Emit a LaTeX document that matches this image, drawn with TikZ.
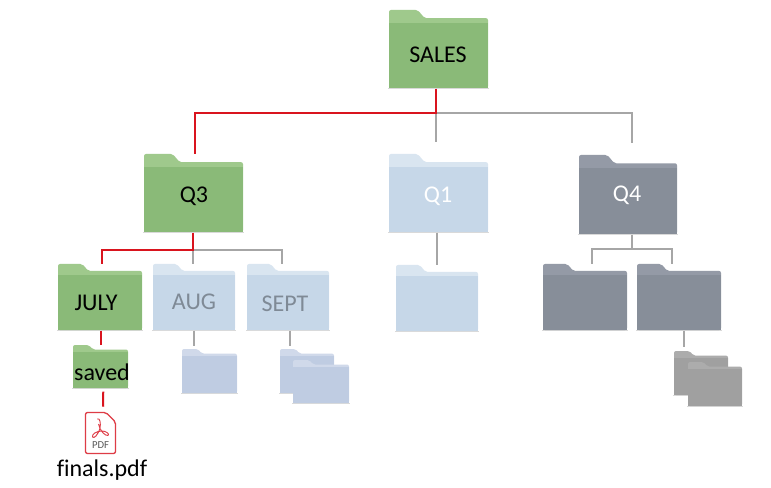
\documentclass[tikz,border=0pt]{standalone}
\usepackage{fontspec}
\setmainfont[Ligatures=NoCommon]{Carlito}
\usetikzlibrary{positioning,calc}
\definecolor{salesgreen}{HTML}{8ABA78}
\definecolor{salestab}{HTML}{9FC98C}
\definecolor{paleblue}{HTML}{C6D7E8}
\definecolor{paletab}{HTML}{D9E5F0}
\definecolor{slategrey}{HTML}{878E99}
\definecolor{slatetab}{HTML}{949AA6}
\definecolor{lilac}{HTML}{BFCCE2}
\definecolor{lilactab}{HTML}{D0D9EA}
\definecolor{stone}{HTML}{A0A0A0}
\definecolor{stonetab}{HTML}{ACACAC}
\definecolor{paletext}{HTML}{7F8A96}
\definecolor{redline}{HTML}{D9141E}
\definecolor{greyline}{HTML}{A6A6A6}
\definecolor{pdfred}{HTML}{DE3C46}
\tikzset{
  redlink/.style={draw=redline,line width=1.5pt},
  greylink/.style={draw=greyline,line width=1.4pt},
  foldertext/.style={font=\fontsize{18pt}{20pt}\selectfont,inner sep=0pt},
}
\begin{document}
\begin{tikzpicture}[x=0.75pt,y=-0.75pt]%
%
% Syntax: {name} {front colour} {tab colour} (x0,y0,x1,y1)
\def\drawfolder#1#2#3(#4,#5,#6,#7){%
  \draw[black!15,line width=0.6pt] ({#4-1},{#7+0.5}) -- ({#6+1},{#7+0.5});
  \fill[#3,rounded corners=1.5pt] (#4,#7) -- (#4,#5) -- ({#4+0.29*(#6-#4)},#5)
    -- ({#4+0.36*(#6-#4)},{#5+0.105*(#7-#5)}) -- (#6,{#5+0.105*(#7-#5)}) -- (#6,#7) -- cycle;
  \fill[#2] (#4,{#5+0.17*(#7-#5)}) rectangle (#6,#7);
  \node[inner sep=0pt,minimum width={(#6-#4)*0.75pt},minimum height={(#7-#5)*0.75pt},anchor=north west] (#1) at (#4,#5) {};
}
%
\fill[white] (0,0) rectangle (771,488);
\useasboundingbox (0,0) rectangle (771,488);
%
\drawfolder{sales}{salesgreen}{salestab}(389,10,488,88)
\node[foldertext] (salestext) at (438,55) {SALES};
\drawfolder{qthree}{salesgreen}{salestab}(144,154,243,232)
\node[foldertext] (qthreetext) at (194,196) {Q3};
\drawfolder{qone}{paleblue}{paletab}(389,154,488,232)
\node[foldertext,text=white] (qonetext) at (438,196) {Q1};
\drawfolder{qfour}{slategrey}{slatetab}(579,155,677,234)
\node[foldertext,text=white] (qfourtext) at (627,195) {Q4};
%
\drawfolder{july}{salesgreen}{salestab}(58,264,142,330)
\node[foldertext] (julytext) at (96,303) {JULY};
\drawfolder{aug}{paleblue}{paletab}(153,264,235,330)
\node[foldertext,text=paletext] (augtext) at (194,302) {AUG};
\drawfolder{sept}{paleblue}{paletab}(247,264,329,330)
\node[foldertext,text=paletext] (septtext) at (285,304) {SEPT};
\drawfolder{qonesub}{paleblue}{paletab}(396,265,478,331)
\drawfolder{qfoura}{slategrey}{slatetab}(543,264,627,330)
\drawfolder{qfourb}{slategrey}{slatetab}(637,264,721,330)
%
\drawfolder{saved}{salesgreen}{salestab}(73,345,128,388)
\node[foldertext] (savedtext) at (102,372) {saved};
\drawfolder{augsub}{lilac}{lilactab}(182,349,237,393)
\drawfolder{septback}{lilac}{lilactab}(280,349,334,393)
\drawfolder{septfront}{lilac}{lilactab}(293,360,349,403)
\drawfolder{qfourback}{stone}{stonetab}(674,351,728,395)
\drawfolder{qfourfront}{stone}{stonetab}(688,362,742,406)
%
% pdf icon
\draw[pdfred,line width=1pt,rounded corners=1.5pt,fill=white] (85.5,412.5) -- (106,412.5) -- (115.5,422) -- (115.5,453.5) -- (85.5,453.5) -- cycle;
\draw[pdfred,line width=0.7pt,line join=round] (97,419) .. controls (100,417) and (101,424) .. (100,428) .. controls (98,435) and (94,439) .. (92.5,437) .. controls (91.5,434) and (97,431) .. (102,431) .. controls (106,431) and (110,434) .. (108,435.5) .. controls (105,436) and (100,431) .. (98.5,424);
\node[inner sep=0pt,minimum width=22.5pt,minimum height=31.5pt] (pdf) at (100.5,433) {};
\node[font=\fontsize{8pt}{9pt}\selectfont,text=black!65,inner sep=0pt] (pdftext) at (100.5,445.5) {PDF};
\node[foldertext] (finals) at (102,470) {finals.pdf};
%
% junctions and free ends
\coordinate (salesbus) at (436,113);
\coordinate (qonefree) at (436,142);
\coordinate (qfourfree) at (632,143);
\coordinate (qthreebus) at (193,250);
\coordinate (qfourbus) at (632,249);
%
\draw[greylink] (salesbus) -- (qonefree);
\draw[greylink] (salesbus) -| (qfourfree);
\draw[redlink] (salesbus |- sales.south) -- (salesbus) -| ($(qthree.north)+(1.5,0)$);
%
\draw[greylink] (qthreebus) -- (qthreebus |- aug.north);
\draw[greylink] (qthreebus) -| ($(sept.north)+(-6,0)$);
\draw[redlink] (qthreebus |- qthree.south) -- (qthreebus) -| ($(july.north)+(2,0)$);
\draw[redlink] ($(july.south)+(1,0)$) -- ($(saved.north)+(0.5,0)$);
\draw[redlink] ($(saved.south)+(2.5,3)$) -- ($(pdf.north)+(2.5,-5)$);
%
\draw[greylink] (aug.south) -- ($(augsub.north)+(-15.5,-3)$);
\draw[greylink] ($(sept.south)+(2,0)$) -- ($(septback.north)+(-17,-3)$);
\draw[greylink] ($(qone.south)+(-1.5,0)$) -- (qonesub.north);
\draw[greylink] (qfourbus |- qfour.south) -- (qfourbus);
\draw[greylink] ($(qfoura.north)+(7,0)$) |- (qfourbus) -| ($(qfourb.north)+(-7,0)$);
\draw[greylink] ($(qfourb.south)+(5,0)$) -- ($(qfourback.north)+(-17,-4)$);
%
\end{tikzpicture}
\end{document}
